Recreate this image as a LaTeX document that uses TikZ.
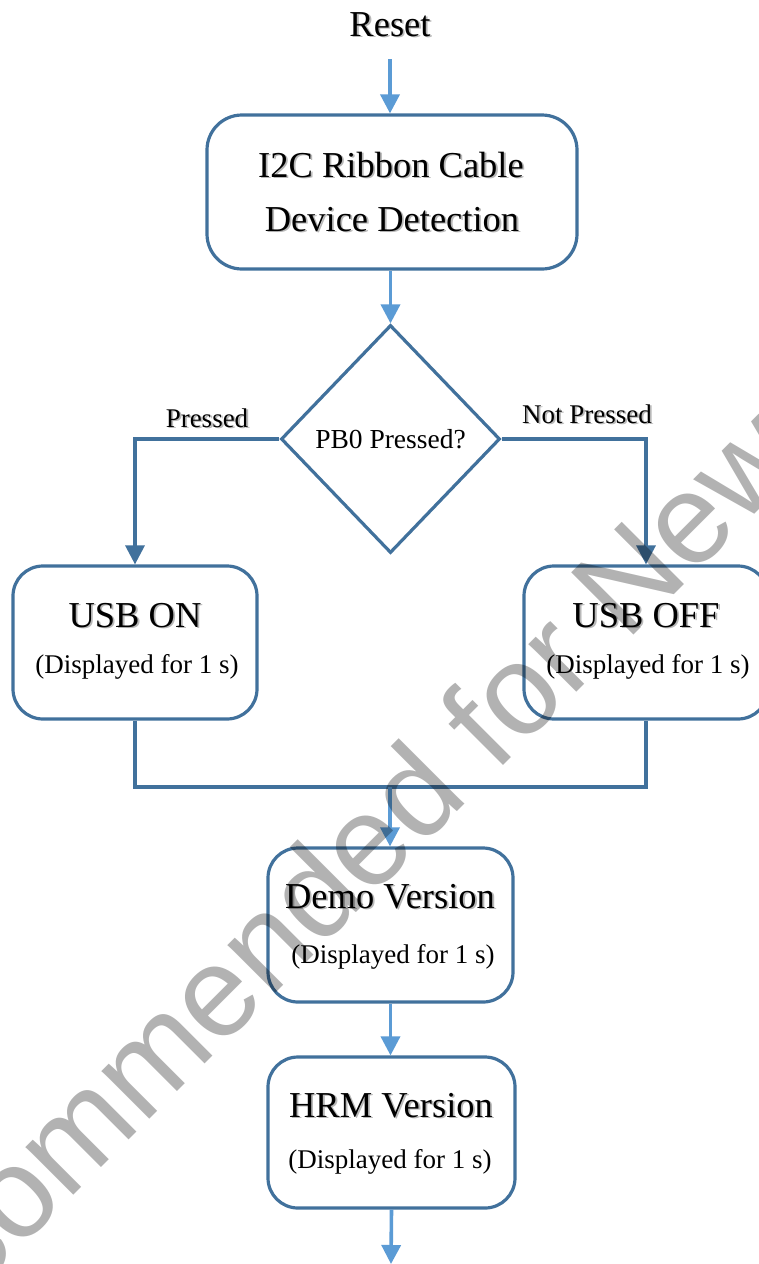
\documentclass[tikz,border=0pt]{standalone}
\usepackage{fontspec}
\setmainfont{Liberation Serif}
\newfontfamily\wmfont{Liberation Sans}
\usetikzlibrary{arrows.meta,shapes.geometric}
\definecolor{boxblue}{HTML}{41719C}
\definecolor{lightblue}{HTML}{5B9BD5}
\definecolor{shadowgray}{gray}{0.72}
\newcommand\shd[1]{\rlap{\kern1.8pt\raisebox{-1.8pt}{\color{shadowgray}#1}}#1}
\tikzset{
  stepbox/.style={draw=boxblue, line width=3.2pt, rounded corners=30pt, inner sep=0pt, fill=none},
  decisionbox/.style={diamond, draw=boxblue, line width=3.2pt, inner sep=0pt, aspect=1,
     minimum width=219pt, minimum height=228pt, font=\fontsize{27.5}{30}\selectfont},
  maintext/.style={anchor=base, inner sep=0pt, font=\fontsize{36.5}{40}\selectfont},
  subtext/.style={anchor=base, inner sep=0pt, font=\fontsize{27}{30}\selectfont},
  branchtext/.style={anchor=base, inner sep=0pt, font=\fontsize{27}{30}\selectfont},
  lightarrow/.style={draw=lightblue, line width=3.6pt, -{Triangle[length=19pt,width=19pt]}},
  darkarrow/.style={draw=boxblue, line width=3.2pt, -{Triangle[length=19pt,width=19pt]}},
  darkline/.style={draw=boxblue, line width=3.2pt},
  wm/.style={anchor=base, inner sep=0pt, rotate=45, text=black, text opacity=0.3,
     font=\wmfont\fontsize{128}{128}\selectfont}
}
\begin{document}
\begin{tikzpicture}[x=1pt,y=-1pt]
\useasboundingbox (0,0) rectangle (759,1264);
\fill[white] (0,0) rectangle (759,1264);

% boxes
\node[stepbox, rounded corners=35pt, minimum width=370pt, minimum height=154pt] (box1) at (392,192) {};
\node[decisionbox] (dia) at (390.5,439) {PB0 Pressed?};
\node[stepbox, minimum width=244pt, minimum height=153pt] (usbon) at (135,642.5) {};
\node[stepbox, minimum width=244pt, minimum height=153pt] (usboff) at (646,642.5) {};
\node[stepbox, minimum width=245pt, minimum height=154pt] (demo) at (390.5,925) {};
\node[stepbox, minimum width=247pt, minimum height=151pt] (hrm) at (391.5,1132.5) {};

% texts
\node[maintext] (reset) at (390,36) {\shd{Reset}};
\node[maintext] (box1a) at (391,177) {\shd{I2C Ribbon Cable}};
\node[maintext] (box1b) at (392,231) {\shd{Device Detection}};
\node[maintext] (usbona) at (135,627) {\shd{USB ON}};
\node[subtext] (usbonb) at (137,673) {(Displayed for 1 s)};
\node[maintext] (usboffa) at (646,627) {\shd{USB OFF}};
\node[subtext] (usboffb) at (648,673) {(Displayed for 1 s)};
\node[maintext] (demoa) at (390,908) {\shd{Demo Version}};
\node[subtext] (demob) at (393,963) {(Displayed for 1 s)};
\node[maintext] (hrma) at (391,1117) {\shd{HRM Version}};
\node[subtext] (hrmb) at (390,1168) {(Displayed for 1 s)};
\node[branchtext] (lblp) at (207,427) {\shd{Pressed}};
\node[branchtext] (lblnp) at (587,423) {\shd{Not Pressed}};

% coordinates
\coordinate (merge) at (390,787);
\coordinate (out) at (391,1264);

% connectors
\draw[lightarrow, shorten <=21pt] (reset.south) -- (reset.south |- box1.north);
\draw[lightarrow] (dia.north |- box1.south) -- (dia.north);
\draw[darkarrow] (dia.west) -| (usbon.north);
\draw[darkarrow] (dia.east) -| (usboff.north);
\draw[darkline] (usbon.south) -- (usbon.south |- merge) -- (usboff.south |- merge) -- (usboff.south);
\draw[lightarrow] (merge) -- (merge |- demo.north);
\draw[lightarrow] (demo.south) -- (demo.south |- hrm.north);
\draw[lightarrow] (hrm.south) -- (out);

% watermark
\node[wm] (wmark) at (546,723) {\llap{Not Recommended f}o\rlap{r New Designs}};
\end{tikzpicture}
\end{document}
